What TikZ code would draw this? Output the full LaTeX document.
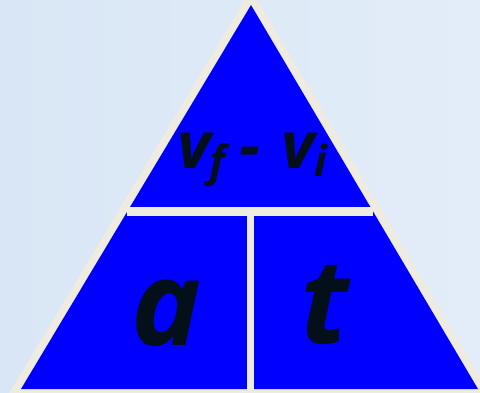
\documentclass[tikz,border=0pt]{standalone}
\usepackage{fontspec}
\setmainfont{Open Sans}
\usetikzlibrary{calc}
\definecolor{bgL}{HTML}{D9E6F5}
\definecolor{bgR}{HTML}{E3EDF9}
\definecolor{cream}{HTML}{EEEBE1}
\definecolor{fillblue}{HTML}{0000FF}
\definecolor{ink}{HTML}{03101A}
\begin{document}
\begin{tikzpicture}[x=1pt,y=-1pt,
  sep/.style={draw=cream},
  lbl/.style={text=ink,font=\bfseries\itshape,inner sep=0pt,anchor=base west},
  big/.style={lbl,font=\bfseries\itshape\fontsize{65}{70}\selectfont},
  sub/.style={lbl,font=\bfseries\itshape\fontsize{43}{44}\selectfont},
  huge/.style={lbl,anchor=base,font=\bfseries\itshape\fontsize{118}{120}\selectfont}]
\useasboundingbox (0,0) rectangle (480,392);
\shade[left color=bgL,right color=bgR] (0,0) rectangle (480,392);
\begin{scope}
\clip (0,0) rectangle (480,392);
\coordinate (apex) at (251,5);
\coordinate (bl) at (21,389);
\coordinate (br) at (478,389);
\filldraw[fill=cream,draw=cream,line width=16pt,miter limit=10] (apex) -- (bl) -- (br) -- cycle;
\fill[fillblue] (apex) -- (bl) -- (br) -- cycle;
\coordinate (hl) at ($(apex)!0.539!(bl)$);
\coordinate (hr) at ($(apex)!0.539!(br)$);
\draw[sep,line width=9pt] (hl) -- (hr);
\coordinate (vt) at (250.5,212.5);
\coordinate (vb) at (250.5,395);
\draw[sep,line width=7pt] (vt) -- (vb);
\end{scope}
\node[big] (v1) at (177,168) {v};
\node[sub] (f) at (209,176) {f};
\node[big] (mi) at (239,168) {-};
\node[big] (v2) at (281,168) {v};
\node[sub] (i) at (314,176) {i};
\node[huge] (acc) at (167,345) {a};
\node[huge] (tim) at (325,343) {t};
\end{tikzpicture}
\end{document}
